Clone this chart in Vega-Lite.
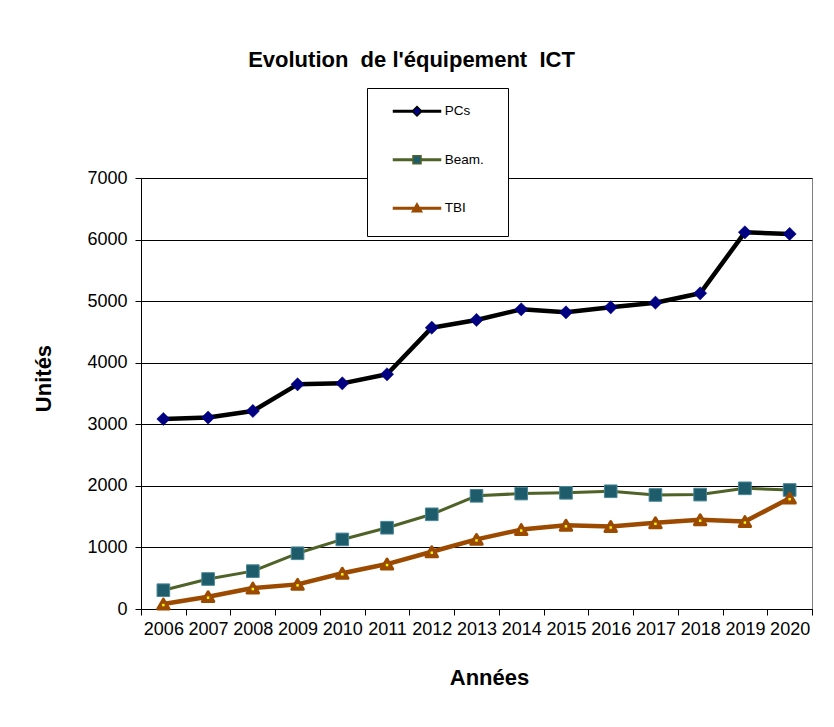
{
  "$schema": "https://vega.github.io/schema/vega-lite/v6.json",
  "autosize": {"type": "none"},
  "width": 671,
  "height": 431,
  "padding": {"left": 141, "top": 178, "right": 22, "bottom": 118},
  "background": "#ffffff",
  "title": {
    "text": "Evolution\u00a0 de l'équipement\u00a0 ICT",
    "font": "Liberation Sans",
    "fontSize": 22,
    "fontWeight": "bold",
    "color": "#000000",
    "anchor": "middle",
    "frame": "group",
    "baseline": "alphabetic",
    "dx": -65,
    "offset": -1
  },
  "data": {
    "values": [
      {"year": 2006, "series": "PCs", "value": 3086},
      {"year": 2007, "series": "PCs", "value": 3110},
      {"year": 2008, "series": "PCs", "value": 3216},
      {"year": 2009, "series": "PCs", "value": 3649},
      {"year": 2010, "series": "PCs", "value": 3665},
      {"year": 2011, "series": "PCs", "value": 3812},
      {"year": 2012, "series": "PCs", "value": 4569},
      {"year": 2013, "series": "PCs", "value": 4694},
      {"year": 2014, "series": "PCs", "value": 4867},
      {"year": 2015, "series": "PCs", "value": 4818},
      {"year": 2016, "series": "PCs", "value": 4900},
      {"year": 2017, "series": "PCs", "value": 4975},
      {"year": 2018, "series": "PCs", "value": 5127},
      {"year": 2019, "series": "PCs", "value": 6118},
      {"year": 2020, "series": "PCs", "value": 6091},
      {"year": 2006, "series": "Beam.", "value": 305},
      {"year": 2007, "series": "Beam.", "value": 487},
      {"year": 2008, "series": "Beam.", "value": 615},
      {"year": 2009, "series": "Beam.", "value": 905},
      {"year": 2010, "series": "Beam.", "value": 1130},
      {"year": 2011, "series": "Beam.", "value": 1320},
      {"year": 2012, "series": "Beam.", "value": 1538},
      {"year": 2013, "series": "Beam.", "value": 1838},
      {"year": 2014, "series": "Beam.", "value": 1875},
      {"year": 2015, "series": "Beam.", "value": 1887},
      {"year": 2016, "series": "Beam.", "value": 1912},
      {"year": 2017, "series": "Beam.", "value": 1852},
      {"year": 2018, "series": "Beam.", "value": 1858},
      {"year": 2019, "series": "Beam.", "value": 1960},
      {"year": 2020, "series": "Beam.", "value": 1933},
      {"year": 2006, "series": "TBI", "value": 80},
      {"year": 2007, "series": "TBI", "value": 200},
      {"year": 2008, "series": "TBI", "value": 340},
      {"year": 2009, "series": "TBI", "value": 400},
      {"year": 2010, "series": "TBI", "value": 580},
      {"year": 2011, "series": "TBI", "value": 730},
      {"year": 2012, "series": "TBI", "value": 930},
      {"year": 2013, "series": "TBI", "value": 1130},
      {"year": 2014, "series": "TBI", "value": 1290},
      {"year": 2015, "series": "TBI", "value": 1360},
      {"year": 2016, "series": "TBI", "value": 1340},
      {"year": 2017, "series": "TBI", "value": 1400},
      {"year": 2018, "series": "TBI", "value": 1450},
      {"year": 2019, "series": "TBI", "value": 1420},
      {"year": 2020, "series": "TBI", "value": 1800}
    ]
  },
  "encoding": {
    "x": {
      "field": "year",
      "type": "ordinal",
      "scale": {"type": "band", "paddingInner": 0, "paddingOuter": 0},
      "axis": {
        "title": "Années",
        "titleFont": "Liberation Sans",
        "titleFontSize": 22,
        "titleFontWeight": "bold",
        "titleColor": "#000000",
        "titleX": 348,
        "titleY": 68,
        "titleBaseline": "middle",
        "titleAlign": "center",
        "titleAngle": 0,
        "labelAngle": 0,
        "labelFont": "Liberation Sans",
        "labelFontSize": 18,
        "labelColor": "#000000",
        "labelPadding": 5,
        "labelOverlap": false,
        "labelFlush": false,
        "labelBound": false,
        "tickBand": "extent",
        "tickSize": 6,
        "tickColor": "#000000",
        "domainColor": "#000000",
        "grid": false
      }
    },
    "y": {
      "field": "value",
      "type": "quantitative",
      "scale": {"domain": [0, 7000], "nice": false, "zero": true},
      "axis": {
        "title": "Unités",
        "titleFont": "Liberation Sans",
        "titleFontSize": 22,
        "titleFontWeight": "bold",
        "titleColor": "#000000",
        "titleX": -98,
        "titleY": 200,
        "titleAngle": 270,
        "titleAlign": "center",
        "titleBaseline": "middle",
        "values": [0, 1000, 2000, 3000, 4000, 5000, 6000, 7000],
        "format": "d",
        "labelFont": "Liberation Sans",
        "labelFontSize": 18,
        "labelColor": "#000000",
        "labelPadding": 8,
        "tickSize": 6,
        "tickColor": "#000000",
        "domainColor": "#000000",
        "grid": true,
        "gridColor": "#000000",
        "gridOpacity": 1,
        "gridWidth": 1
      }
    }
  },
  "layer": [
    {
      "transform": [{"filter": "datum.series !== 'Beam.'"}],
      "mark": {"type": "line", "strokeJoin": "round", "strokeWidth": 4.5},
      "encoding": {
        "stroke": {
          "field": "series",
          "type": "nominal",
          "scale": {"domain": ["PCs", "Beam.", "TBI"], "range": ["#000000", "#4F6228", "#9C4A00"]},
          "legend": {
            "title": null,
            "orient": "none",
            "legendX": 226,
            "legendY": -90,
            "strokeColor": "#000000",
            "fillColor": "#ffffff",
            "padding": 16.5,
            "rowPadding": 26.5,
            "symbolSize": 100,
            "symbolStrokeWidth": 1.5,
            "symbolOffset": 26.75,
            "labelOffset": 21,
            "labelFont": "Liberation Sans",
            "labelFontSize": 13.5,
            "labelColor": "#000000",
            "encode": {
              "symbols": {
                "update": {
                  "shape": {"signal": "datum.value === 'PCs' ? 'M0,-0.95L0.95,0L0,0.95L-0.95,0ZM-4.7,-0.15L-0.8,-0.15L-0.8,0.15L-4.7,0.15ZM0.8,-0.15L4.7,-0.15L4.7,0.15L0.8,0.15ZM14.3,-1.5L14.3,-1.5M14.3,1.5L14.3,1.5' : datum.value === 'Beam.' ? 'M-0.8,-0.8L0.8,-0.8L0.8,0.8L-0.8,0.8ZM-4.7,-0.15L-0.8,-0.15L-0.8,0.15L-4.7,0.15ZM0.8,-0.15L4.7,-0.15L4.7,0.15L0.8,0.15ZM14.3,-1.5L14.3,-1.5M14.3,1.5L14.3,1.5' : 'M0,-0.95L0.95,0.7L-0.95,0.7ZM-4.7,-0.15L-0.5,-0.15L-0.5,0.15L-4.7,0.15ZM0.5,-0.15L4.7,-0.15L4.7,0.15L0.5,0.15ZM14.3,-1.5L14.3,-1.5M14.3,1.5L14.3,1.5'"},
                  "fill": {"signal": "datum.value === 'PCs' ? '#000080' : datum.value === 'Beam.' ? '#1F5C6B' : '#9C4A00'"},
                  "fillOpacity": {"value": 1},
                  "strokeWidth": {"value": 1.5},
                  "opacity": {"value": 1}
                }
              }
            }
          }
        }
      }
    },
    {
      "transform": [{"filter": "datum.series === 'Beam.'"}],
      "mark": {"type": "line", "strokeJoin": "round", "strokeWidth": 3, "stroke": "#4F6228"}
    },
    {
      "transform": [{"filter": "datum.series === 'PCs'"}],
      "mark": {"type": "point", "shape": "diamond", "filled": true, "fill": "#000080", "stroke": "#000080", "strokeWidth": 0.5, "size": 175, "opacity": 1}
    },
    {
      "transform": [{"filter": "datum.series === 'Beam.'"}],
      "mark": {"type": "point", "shape": "square", "filled": true, "fill": "#1F5C6B", "stroke": "#4A8796", "strokeWidth": 1, "size": 160, "opacity": 1}
    },
    {
      "transform": [{"filter": "datum.series === 'TBI'"}],
      "mark": {"type": "point", "shape": "triangle-up", "filled": true, "fill": "#9C4A00", "stroke": "#9C4A00", "strokeWidth": 3, "strokeJoin": "round", "size": 130, "opacity": 1}
    },
    {
      "transform": [{"filter": "datum.series === 'TBI'"}],
      "mark": {"type": "point", "shape": "square", "filled": true, "fill": "#FFFF00", "strokeWidth": 0, "size": 6, "opacity": 1, "yOffset": 1}
    }
  ],
  "config": {
    "font": "Liberation Sans",
    "view": {"stroke": "#808080", "strokeWidth": 1}
  }
}
